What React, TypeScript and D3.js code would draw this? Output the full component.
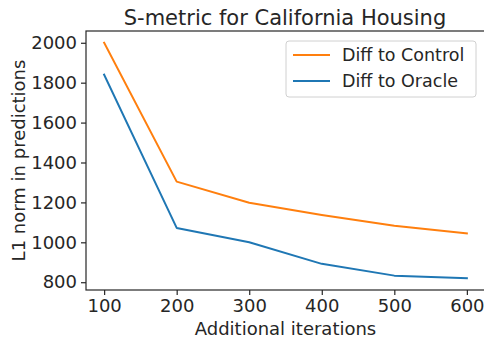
import React, { useEffect, useRef } from "react";
import * as d3 from "d3";

const iterations = [100, 200, 300, 400, 500, 600];
const diffToControl = [2000, 1304, 1198, 1137, 1083, 1045];
const diffToOracle = [1840, 1072, 1000, 892, 833, 820];
const xTicks = [100, 200, 300, 400, 500, 600];
const yTicks = [800, 1000, 1200, 1400, 1600, 1800, 2000];
const seriesNames = ["Diff to Control", "Diff to Oracle"];
const seriesColors = ["#ff7f0e", "#1f77b4"];

const W = 484;
const H = 341;
const FONT = "DejaVu Sans, sans-serif";
const TXT = "#262626";

export default function App() {
  const ref = useRef<SVGSVGElement>(null);

  useEffect(() => {
    const svg = d3.select(ref.current);
    svg.selectAll("*").remove();

    const left = 86, right = 485, top = 31, bottom = 290;
    const allY = [...diffToControl, ...diffToOracle];
    const yMin = d3.min(allY)!, yMax = d3.max(allY)!;
    const yPad = (yMax - yMin) * 0.05;
    const xMin = d3.min(iterations)!, xMax = d3.max(iterations)!;
    const xPad = (xMax - xMin) * 0.05;

    const x = d3.scaleLinear().domain([xMin - xPad, xMax + xPad]).range([left, right]);
    const y = d3.scaleLinear().domain([yMin - yPad, yMax + yPad]).range([bottom, top]);

    svg.append("rect").attr("width", W).attr("height", H).attr("fill", "#fff");

    const series = [diffToControl, diffToOracle];
    const line = d3
      .line<number>()
      .x((_, i) => x(iterations[i]))
      .y((d) => y(d));

    series.forEach((s, k) => {
      svg
        .append("path")
        .attr("d", line(s)!)
        .attr("fill", "none")
        .attr("stroke", seriesColors[k])
        .attr("stroke-width", 2)
        .attr("stroke-linejoin", "round")
        .attr("stroke-linecap", "square");
    });

    // spines
    svg
      .append("rect")
      .attr("x", left)
      .attr("y", top)
      .attr("width", right - left)
      .attr("height", bottom - top)
      .attr("fill", "none")
      .attr("stroke", TXT)
      .attr("stroke-width", 1.2);

    // x axis
    const xAxis = d3.axisBottom(x).tickValues(xTicks).tickSize(5).tickPadding(4).tickFormat(d3.format("d"));
    const gx = svg.append("g").attr("transform", `translate(0,${bottom})`).call(xAxis);
    gx.select(".domain").remove();
    gx.selectAll("line").attr("stroke", TXT).attr("stroke-width", 1.2);
    gx.selectAll("text").attr("fill", TXT).attr("font-family", FONT).attr("font-size", 18);

    const yAxis = d3.axisLeft(y).tickValues(yTicks).tickSize(5).tickPadding(4).tickFormat(d3.format("d"));
    const gy = svg.append("g").attr("transform", `translate(${left},0)`).call(yAxis);
    gy.select(".domain").remove();
    gy.selectAll("line").attr("stroke", TXT).attr("stroke-width", 1.2);
    gy.selectAll("text").attr("fill", TXT).attr("font-family", FONT).attr("font-size", 18);

    // title
    svg
      .append("text")
      .attr("x", (left + 484) / 2)
      .attr("y", 25)
      .attr("text-anchor", "middle")
      .attr("font-family", FONT)
      .attr("font-size", 21)
      .attr("fill", TXT)
      .text("S-metric for California Housing");

    svg
      .append("text")
      .attr("x", (left + right) / 2)
      .attr("y", 335)
      .attr("text-anchor", "middle")
      .attr("font-family", FONT)
      .attr("font-size", 18)
      .attr("fill", TXT)
      .text("Additional iterations");

    svg
      .append("text")
      .attr("transform", `translate(25,${(top + bottom) / 2}) rotate(-90)`)
      .attr("text-anchor", "middle")
      .attr("font-family", FONT)
      .attr("font-size", 18)
      .attr("fill", TXT)
      .text("L1 norm in predictions");

    // legend
    const lg = svg.append("g");
    lg.append("rect")
      .attr("x", 286)
      .attr("y", 41)
      .attr("width", 190)
      .attr("height", 56)
      .attr("rx", 3)
      .attr("fill", "#fff")
      .attr("fill-opacity", 0.8)
      .attr("stroke", "#d0d0d0");
    seriesNames.forEach((name, i) => {
      const cy = 55 + i * 26;
      lg.append("line")
        .attr("x1", 293)
        .attr("x2", 330)
        .attr("y1", cy)
        .attr("y2", cy)
        .attr("stroke", seriesColors[i])
        .attr("stroke-width", 2);
      lg.append("text")
        .attr("x", 342)
        .attr("y", cy)
        .attr("dy", "0.35em")
        .attr("font-family", FONT)
        .attr("font-size", 17.5)
        .attr("fill", TXT)
        .text(name);
    });
  }, []);

  return (
    <svg
      ref={ref}
      width={W}
      height={H}
      style={{ position: "absolute", left: 0, top: 0 }}
    />
  );
}
